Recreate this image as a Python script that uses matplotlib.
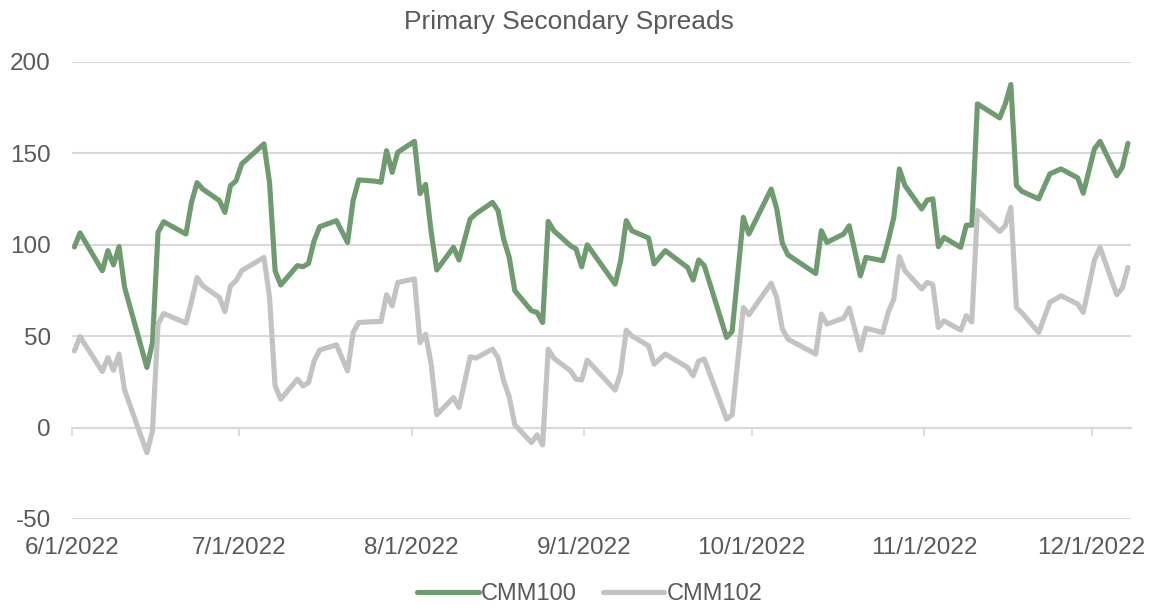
import matplotlib
matplotlib.use("Agg")
import matplotlib.pyplot as plt
import matplotlib.dates as mdates
from matplotlib.ticker import FuncFormatter
import pandas as pd

# --- data
dates = ['2022-06-01', '2022-06-02', '2022-06-06', '2022-06-07', '2022-06-08', '2022-06-09',
         '2022-06-10', '2022-06-14', '2022-06-15', '2022-06-16', '2022-06-17', '2022-06-21',
         '2022-06-22', '2022-06-23', '2022-06-24', '2022-06-27', '2022-06-28', '2022-06-29',
         '2022-06-30', '2022-07-01', '2022-07-05', '2022-07-06', '2022-07-07', '2022-07-08',
         '2022-07-11', '2022-07-12', '2022-07-13', '2022-07-14', '2022-07-15', '2022-07-18',
         '2022-07-20', '2022-07-21', '2022-07-22', '2022-07-25', '2022-07-26', '2022-07-27',
         '2022-07-28', '2022-07-29', '2022-08-01', '2022-08-02', '2022-08-03', '2022-08-04',
         '2022-08-05', '2022-08-08', '2022-08-09', '2022-08-11', '2022-08-12', '2022-08-15',
         '2022-08-16', '2022-08-17', '2022-08-18', '2022-08-19', '2022-08-22', '2022-08-23',
         '2022-08-24', '2022-08-25', '2022-08-26', '2022-08-29', '2022-08-30', '2022-08-31',
         '2022-09-01', '2022-09-06', '2022-09-07', '2022-09-08', '2022-09-09', '2022-09-12',
         '2022-09-13', '2022-09-15', '2022-09-19', '2022-09-20', '2022-09-21', '2022-09-22',
         '2022-09-26', '2022-09-27', '2022-09-29', '2022-09-30', '2022-10-04', '2022-10-05',
         '2022-10-06', '2022-10-07', '2022-10-12', '2022-10-13', '2022-10-14', '2022-10-17',
         '2022-10-18', '2022-10-20', '2022-10-21', '2022-10-24', '2022-10-25', '2022-10-26',
         '2022-10-27', '2022-10-28', '2022-10-31', '2022-11-01', '2022-11-02', '2022-11-03',
         '2022-11-04', '2022-11-07', '2022-11-08', '2022-11-09', '2022-11-10', '2022-11-14',
         '2022-11-15', '2022-11-16', '2022-11-17', '2022-11-18', '2022-11-21', '2022-11-23',
         '2022-11-25', '2022-11-28', '2022-11-29', '2022-12-01', '2022-12-02', '2022-12-05',
         '2022-12-06', '2022-12-07']

cmm100 = [98.8, 106.5, 85.8, 96.8, 89.0, 99.0,
          76.7, 32.9, 46.5, 106.8, 112.6, 105.9,
          123.2, 134.0, 130.5, 124.2, 117.7, 132.4,
          135.0, 144.2, 155.2, 134.2, 85.8, 78.0,
          88.6, 88.0, 89.8, 102.2, 109.9, 113.2,
          101.3, 124.2, 135.5, 134.8, 134.2, 151.5,
          139.6, 150.6, 156.6, 128.0, 133.0, 107.0,
          86.2, 98.6, 91.7, 114.1, 116.9, 123.2,
          118.7, 103.2, 93.1, 74.9, 63.9, 63.0,
          57.5, 112.8, 107.7, 99.5, 97.7, 88.0,
          100.0, 78.5, 91.3, 113.2, 107.7, 103.7,
          89.5, 96.8, 87.6, 80.7, 91.7, 88.6,
          49.3, 52.6, 115.0, 105.9, 130.5, 119.6,
          101.0, 94.5, 84.3, 107.7, 101.3, 105.9,
          110.4, 83.0, 93.1, 91.3, 102.2, 115.0,
          141.5, 132.4, 119.6, 124.5, 125.1, 99.0,
          104.0, 98.6, 110.7, 110.7, 177.1, 169.4,
          177.1, 187.7, 132.4, 129.2, 125.1, 138.8,
          141.5, 136.6, 128.2, 152.5, 156.6, 137.8,
          142.4, 155.5]

cmm102 = [42.0, 49.8, 30.7, 38.3, 31.4, 40.2,
          20.5, -13.7, -1.8, 56.6, 62.4, 57.2,
          69.0, 82.1, 77.6, 71.2, 63.5, 77.6,
          80.3, 85.8, 93.1, 71.2, 22.8, 15.5,
          26.5, 22.8, 24.6, 36.5, 42.4, 45.3,
          31.0, 52.0, 57.5, 58.0, 58.0, 72.7,
          66.6, 79.4, 81.3, 46.5, 51.1, 34.7,
          7.0, 16.4, 11.0, 38.7, 38.0, 42.9,
          38.3, 25.6, 16.8, 1.5, -8.2, -4.0,
          -9.5, 42.9, 38.0, 31.0, 26.5, 26.0,
          36.9, 20.5, 30.1, 53.3, 50.2, 44.7,
          34.7, 40.2, 32.9, 28.3, 36.5, 37.5,
          4.6, 7.0, 65.7, 61.7, 79.0, 71.2,
          54.0, 48.4, 40.2, 62.1, 56.6, 59.9,
          65.4, 42.4, 54.4, 52.0, 63.0, 70.3,
          93.5, 85.8, 75.8, 79.4, 78.2, 54.8,
          58.4, 53.3, 61.2, 57.8, 118.7, 107.3,
          110.4, 120.5, 65.7, 62.7, 52.0, 68.5,
          72.1, 67.6, 63.0, 91.7, 98.6, 72.7,
          76.3, 87.6]

month_ticks = ['2022-06-01', '2022-07-01', '2022-08-01', '2022-09-01',
               '2022-10-01', '2022-11-01', '2022-12-01']
y_ticks = [-50, 0, 50, 100, 150, 200]

GREEN = '#709a6f'
GREY = '#c3c3c3'
TXT = '#595959'
GRID = '#d9d9d9'

plt.rcParams['font.family'] = ['Liberation Sans', 'DejaVu Sans']
plt.rcParams['axes.unicode_minus'] = False

# Excel-style date axis: points sit in the middle of their day
x = pd.to_datetime(dates) + pd.Timedelta(hours=12)
ticks = pd.to_datetime(month_ticks)

fig = plt.figure(figsize=(11.52, 6.09), dpi=100)
ax = fig.add_axes([0.0622, 0.1478, 0.9193, 0.7504])

ax.plot(x, cmm100, color=GREEN, lw=3.7, solid_joinstyle='round', solid_capstyle='round',
        label='CMM100', zorder=3)
ax.plot(x, cmm102, color=GREY, lw=3.7, solid_joinstyle='round', solid_capstyle='round',
        label='CMM102', zorder=3)

ax.set_xlim(pd.Timestamp('2022-06-01'), pd.Timestamp('2022-12-08'))
ax.set_ylim(-50, 200)
ax.set_yticks(y_ticks)
ax.set_xticks(ticks)
ax.xaxis.set_major_formatter(FuncFormatter(
    lambda v, pos: (lambda d: f"{d.month}/{d.day}/{d.year}")(mdates.num2date(v))))

ax.grid(axis='y', color=GRID, lw=1.5, zorder=0)
for s in ax.spines.values():
    s.set_visible(False)
ax.tick_params(axis='both', length=0, labelsize=17.5, labelcolor=TXT)
ax.tick_params(axis='x', pad=13)
ax.tick_params(axis='y', pad=15)

# category axis crosses at zero with small tick marks
sec = ax.secondary_xaxis(0.2)
sec.set_xticks(ticks)
sec.tick_params(axis='x', length=6, width=1.3, color=GRID, labelbottom=False)
sec.spines['bottom'].set_color(GRID)
sec.spines['bottom'].set_linewidth(1.5)

fig.text(0.494, 0.964, 'Primary Secondary Spreads', ha='center', va='center',
         fontsize=19, color=TXT)

fig.legend(loc='center', bbox_to_anchor=(0.512, 0.025), ncol=2, frameon=False,
           fontsize=17, labelcolor=TXT, handlelength=2.6, handletextpad=0.1,
           columnspacing=1.1)

fig.savefig('out.png', dpi=100)
